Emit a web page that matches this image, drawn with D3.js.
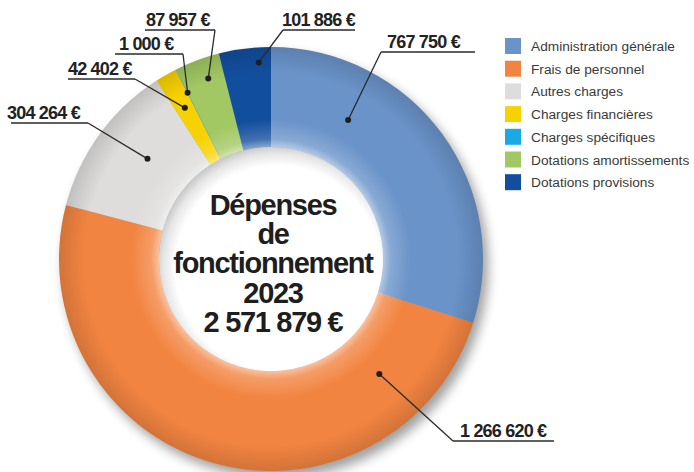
<!DOCTYPE html>
<html>
<head>
<meta charset="utf-8">
<script src="https://cdn.jsdelivr.net/npm/d3@7"></script>
<style>
  html, body { margin: 0; padding: 0; background: #fff; }
  svg { display: block; font-family: "Liberation Sans", Arial, sans-serif; }
</style>
</head>
<body>
<svg id="chart" width="694" height="472"></svg>
<script>
// données
const categories = [
  "Administration générale",
  "Frais de personnel",
  "Autres charges",
  "Charges financières",
  "Charges spécifiques",
  "Dotations amortissements",
  "Dotations provisions"
];
const values = [767750, 1266620, 304264, 42402, 1000, 87957, 101886];
const valueLabels = ["767 750 €", "1 266 620 €", "304 264 €", "42 402 €", "1 000 €", "87 957 €", "101 886 €"];
const colors = ["#6a93c9", "#f28441", "#dedddb", "#f8d200", "#19aae6", "#a2c863", "#124e9e"];
const titleLines = ["Dépenses", "de", "fonctionnement", "2023", "2 571 879 €"];

const W = 694, H = 472;
const cx = 271, cy = 259;
const R = 212, r0 = 112;

// position des étiquettes (texte + soulignement), t = position dans la part, rd = rayon du point
const labelLayout = [
  { tx: 387, ty: 48,  x0: 381, x1: 475, uy: 52,  end: "x0", t: 0.27,  rd: 159 },
  { tx: 460, ty: 437, x0: 453, x1: 554, uy: 441, end: "x0", t: 0.165, rd: 158 },
  { tx: 7,   ty: 119, x0: 11,  x1: 88,  uy: 123, end: "x1", t: 0.57,  rd: 159 },
  { tx: 68,  ty: 75,  x0: 68,  x1: 135, uy: 79,  end: "x1", t: 0.5,   rd: 174 },
  { tx: 119, ty: 50,  x0: 115, x1: 183, uy: 54,  end: "x1", t: 0.5,   rd: 186 },
  { tx: 146, ty: 26,  x0: 145, x1: 215, uy: 30,  end: "x1", t: 0.6,   rd: 191 },
  { tx: 282, ty: 26,  x0: 283, x1: 355, uy: 30,  end: "x0", t: 0.75,  rd: 197 }
];

const data = categories.map((c, i) => ({ name: c, value: values[i], label: valueLabels[i], color: colors[i] }));

const svg = d3.select("#chart");
const defs = svg.append("defs");

// ombre portée
const shadow = defs.append("filter").attr("id", "shadow")
  .attr("x", "-20%").attr("y", "-20%").attr("width", "140%").attr("height", "140%");
shadow.append("feGaussianBlur").attr("stdDeviation", 6);

// dégradé de relief sur l'anneau (coordonnées locales, centre = 0,0)
const ringGrad = defs.append("radialGradient").attr("id", "ringShade")
  .attr("gradientUnits", "userSpaceOnUse")
  .attr("cx", 0).attr("cy", 0).attr("r", R);
[
  [r0 / R, "#fff", 0.5],
  [(r0 + 8) / R, "#fff", 0.2],
  [(r0 + 28) / R, "#fff", 0],
  [0.88, "#000", 0],
  [1, "#000", 0.13]
].forEach(([o, c, a]) => ringGrad.append("stop")
  .attr("offset", o).attr("stop-color", c).attr("stop-opacity", a));

// ombre intérieure du trou
const holeGrad = defs.append("radialGradient").attr("id", "holeShade")
  .attr("gradientUnits", "userSpaceOnUse")
  .attr("cx", cx + 7).attr("cy", cy + 9).attr("r", r0 + 10);
[[0, "#fff"], [0.84, "#fff"], [0.94, "#e6e6e6"], [1, "#cbcbcb"]]
  .forEach(([o, c]) => holeGrad.append("stop").attr("offset", o).attr("stop-color", c));

const g = svg.append("g").attr("transform", `translate(${cx},${cy})`);

const pie = d3.pie().sort(null).value(d => d.value);
const arcs = pie(data);
const arc = d3.arc().innerRadius(r0).outerRadius(R);
const ring = d3.arc().innerRadius(r0).outerRadius(R).startAngle(0).endAngle(2 * Math.PI);

g.append("path")
  .attr("d", ring())
  .attr("transform", "translate(5,7)")
  .attr("fill", "#000")
  .attr("opacity", 0.38)
  .attr("filter", "url(#shadow)");

g.selectAll("path.slice")
  .data(arcs)
  .join("path")
  .attr("class", "slice")
  .attr("d", arc)
  .attr("fill", d => d.data.color);

g.append("path")
  .attr("d", ring())
  .attr("fill", "url(#ringShade)");

svg.append("circle")
  .attr("cx", cx).attr("cy", cy).attr("r", r0)
  .attr("fill", "url(#holeShade)");

// texte central
svg.append("g")
  .selectAll("text")
  .data(titleLines)
  .join("text")
  .attr("x", cx + 2)
  .attr("y", (d, i) => 215 + i * 29.2)
  .attr("text-anchor", "middle")
  .attr("font-size", 29)
  .attr("font-weight", "bold")
  .attr("letter-spacing", -1.3)
  .attr("fill", "#1e1e1e")
  .text(d => d);

// étiquettes
const lab = svg.append("g");
arcs.forEach((a, i) => {
  const L = labelLayout[i];
  const ang = a.startAngle + (a.endAngle - a.startAngle) * L.t;
  const px = cx + L.rd * Math.sin(ang);
  const py = cy - L.rd * Math.cos(ang);
  const ex = L.end === "x0" ? L.x0 : L.x1;
  lab.append("line")
    .attr("x1", L.x0).attr("x2", L.x1).attr("y1", L.uy).attr("y2", L.uy)
    .attr("stroke", "#2a2a2a").attr("stroke-width", 1.3);
  lab.append("line")
    .attr("x1", ex).attr("y1", L.uy).attr("x2", px).attr("y2", py)
    .attr("stroke", "#2a2a2a").attr("stroke-width", 1.3);
  lab.append("circle")
    .attr("cx", px).attr("cy", py).attr("r", 3)
    .attr("fill", "#1e1e1e");
  lab.append("text")
    .attr("x", L.tx).attr("y", L.ty)
    .attr("font-size", 18)
    .attr("font-weight", "bold")
    .attr("letter-spacing", -0.8)
    .attr("fill", "#222")
    .text(a.data.label);
});

// légende
const legend = svg.append("g").attr("transform", "translate(505,38)");
const item = legend.selectAll("g")
  .data(data)
  .join("g")
  .attr("transform", (d, i) => `translate(0,${i * 22.7})`);
item.append("rect")
  .attr("width", 16).attr("height", 16)
  .attr("fill", d => d.color);
item.append("text")
  .attr("x", 26).attr("y", 13)
  .attr("font-size", 13.7)
  .attr("fill", "#3a3a3a")
  .text(d => d.name);
</script>
</body>
</html>
